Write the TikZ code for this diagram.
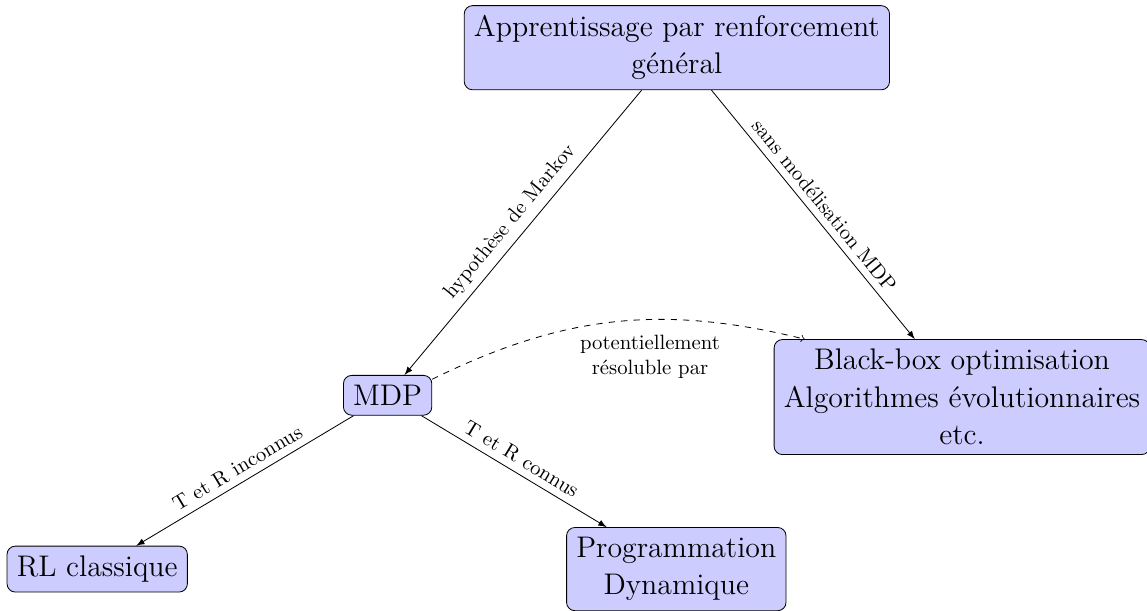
\documentclass[tikz,border=0pt]{standalone}
\usepackage{fontspec}
\usepackage{tikz}

\tikzset{
  bloc/.style={draw, rounded corners, fill=blue!20, align=center, font=\Large, inner sep=4.7pt},
}

\begin{document}
\begin{tikzpicture}
    % Page frame
    \useasboundingbox (0,0) rectangle (19.47,-10.36);

    % Boxes
    \node[bloc] (RLgen) at (11.49,-0.81) {Apprentissage par renforcement\\général};
    \node[bloc] (MDP) at (6.58,-6.71) {MDP};
    \node[bloc] (BB) at (16.33,-6.74) {Black-box optimisation\\Algorithmes évolutionnaires\\etc.};
    \node[bloc] (RL) at (1.65,-9.66) {RL classique};
    \node[bloc] (PD) at (11.48,-9.66) {Programmation\\Dynamique};

    % Arrows
    \draw[-latex] (RLgen) -- node[above, sloped] {hypothèse de Markov} (MDP);
    \draw[-latex] (RLgen) -- node[above, sloped] {sans modélisation MDP} (BB);
    \draw[-latex] (MDP) -- node[above, sloped] {T et R inconnus} (RL);
    \draw[-latex] (MDP) -- node[above, sloped] {T et R connus} (PD);

    % -- dashed link
    \draw[->, dashed] (MDP) to[bend left=20]
        node[pos=0.6, below=4pt, align=center] {potentiellement\\résoluble par} (BB);
\end{tikzpicture}
\end{document}
